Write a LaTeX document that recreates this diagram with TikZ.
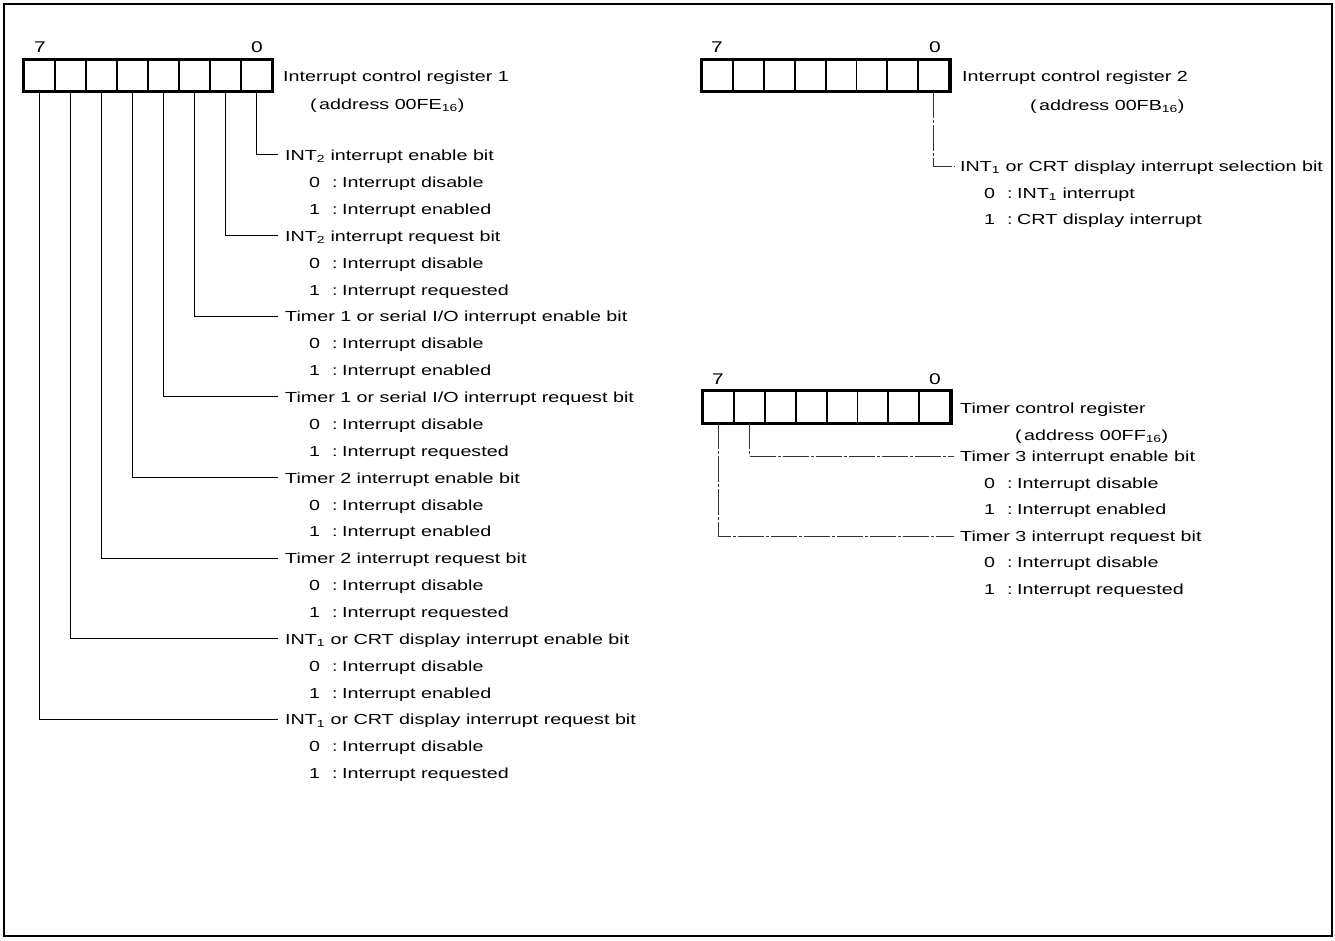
\documentclass[tikz,border=0pt]{standalone}
\usepackage{fontspec}
\setmainfont{Liberation Sans}[FakeStretch=1.35]
\newcommand\bitopt[2]{\makebox[23pt][l]{#1}\makebox[10pt][l]{:}#2}
\begin{document}
\begin{tikzpicture}[x=1pt,y=-1pt,font=\fontsize{14.6}{17}\selectfont]
\tikzset{
  cell/.style={draw,line width=1.8pt,minimum width=31pt,minimum height=31pt,inner sep=0pt},
  outer/.style={line width=3pt},
  lbl/.style={anchor=west,inner sep=0pt},
  num/.style={inner sep=0pt,font=\fontsize{15.5}{18}\selectfont},
  conn/.style={line width=1pt},
  fconn/.style={line width=0.9pt,black!80,dash pattern=on 26pt off 2pt on 3pt off 2pt},
}
\useasboundingbox (0,0) rectangle (1335,941);
\draw[line width=2.2pt] (4,4) rectangle (1332,936);

% ---------- Interrupt control register 1 ----------
\foreach \b in {0,...,7}
  \node[cell] (ra\b) at ({24+31*(7.5-\b)},75.5) {};
\draw[outer] (ra7.north west) rectangle (ra0.south east);
\node[num] (ra7n) at (40,47) {7};
\node[num] (ra0n) at (257,47) {0};
\node[lbl] (ratitle) at (283,78) {Interrupt control register 1};
\node[lbl] (raaddr) at (310,106) {(\,address 00FE\textsubscript{16})};

\foreach \k/\txt/\last in {
  0/{INT\textsubscript{2} interrupt enable bit}/enabled,
  1/{INT\textsubscript{2} interrupt request bit}/requested,
  2/{Timer 1 or serial I/O interrupt enable bit}/enabled,
  3/{Timer 1 or serial I/O interrupt request bit}/requested,
  4/{Timer 2 interrupt enable bit}/enabled,
  5/{Timer 2 interrupt request bit}/requested,
  6/{INT\textsubscript{1} or CRT display interrupt enable bit}/enabled,
  7/{INT\textsubscript{1} or CRT display interrupt request bit}/requested}{
  \pgfmathsetmacro\yy{157+80.6*\k}
  \node[lbl] (h\k) at (285,\yy) {\txt};
  \node[lbl] (hz\k) at (309,\yy+26.9) {\bitopt{0}{Interrupt disable}};
  \node[lbl] (ho\k) at (309,\yy+53.8) {\bitopt{1}{Interrupt \last}};
  \draw[conn] (ra\k.south) |- ([xshift=-7pt,yshift=2pt]h\k.west);
}

% ---------- Interrupt control register 2 ----------
\foreach \b in {0,...,7}
  \node[cell] (rb\b) at ({702+30.9*(7.5-\b)},75.5) {};
\draw[outer] (rb7.north west) rectangle (rb0.south east);
\node[num] (rb7n) at (717,47) {7};
\node[num] (rb0n) at (935,47) {0};
\node[lbl] (rbtitle) at (962,78) {Interrupt control register 2};
\node[lbl] (rbaddr) at (1030,107) {(\,address 00FB\textsubscript{16})};
\node[lbl] (sel) at (960,168) {INT\textsubscript{1} or CRT display interrupt selection bit};
\node[lbl] (selz) at (984,195) {\bitopt{0}{INT\textsubscript{1} interrupt}};
\node[lbl] (selo) at (984,221) {\bitopt{1}{CRT display interrupt}};
\draw[fconn] (rb0.south) |- ([xshift=-6pt,yshift=2pt]sel.west);

% ---------- Timer control register ----------
\foreach \b in {0,...,7}
  \node[cell] (rc\b) at ({703+30.9*(7.5-\b)},407) {};
\draw[outer] (rc7.north west) rectangle (rc0.south east);
\node[num] (rc7n) at (718,379) {7};
\node[num] (rc0n) at (935,379) {0};
\node[lbl] (rctitle) at (960,410) {Timer control register};
\node[lbl] (rcaddr) at (1015,437) {(\,address 00FF\textsubscript{16})};
\node[lbl] (t3e) at (960,458) {Timer 3 interrupt enable bit};
\node[lbl] (t3ez) at (984,485) {\bitopt{0}{Interrupt disable}};
\node[lbl] (t3eo) at (984,511) {\bitopt{1}{Interrupt enabled}};
\node[lbl] (t3r) at (960,538) {Timer 3 interrupt request bit};
\node[lbl] (t3rz) at (984,564) {\bitopt{0}{Interrupt disable}};
\node[lbl] (t3ro) at (984,591) {\bitopt{1}{Interrupt requested}};
\draw[fconn] (rc6.south) |- ([xshift=-6pt,yshift=2pt]t3e.west);
\draw[fconn] (rc7.south) |- ([xshift=-6pt,yshift=2pt]t3r.west);
\end{tikzpicture}
\end{document}
